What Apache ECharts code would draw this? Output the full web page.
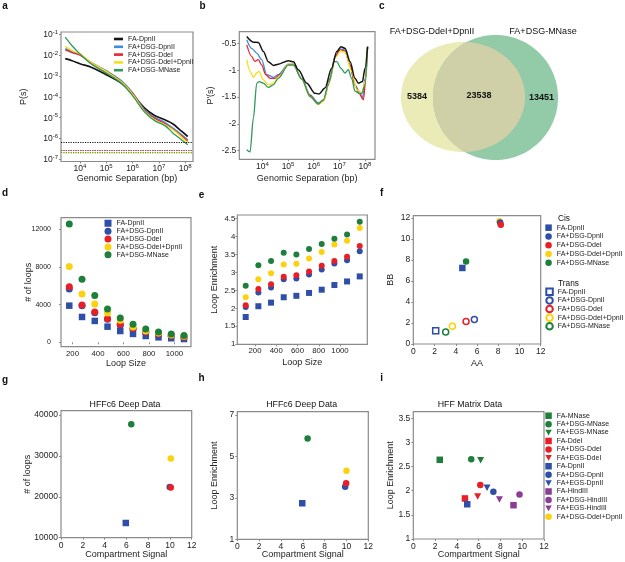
<!DOCTYPE html>
<html><head><meta charset="utf-8">
<script src="https://cdn.jsdelivr.net/npm/echarts@6/dist/echarts.min.js"></script>
<style>html,body{margin:0;padding:0;background:#fff}#c{width:625px;height:562px}</style>
</head><body><div id="c"></div><script>
const FONT = '"Liberation Sans", Arial, Helvetica, sans-serif';

// ---------- shared sample names ----------
const sampleNames = ['FA-DpnII', 'FA+DSG-DpnII', 'FA+DSG-DdeI', 'FA+DSG-DdeI+DpnII', 'FA+DSG-MNase'];

// ---------- panel a: P(s) (log10 values) ----------
const psLogSep = [3.44, 3.7, 4.0, 4.43, 5.0, 5.57, 6.02, 6.46, 6.84, 7.23, 7.54, 7.8, 8.1];
const psFA_DpnII = [-2.17, -2.27, -2.41, -2.58, -2.94, -3.34, -3.90, -4.54, -4.89, -5.10, -5.30, -5.58, -5.90];
const psDSG_DpnII = [-1.69, -1.83, -1.98, -2.35, -2.74, -3.22, -3.82, -4.62, -4.98, -5.22, -5.50, -5.75, -6.06];
const psDSG_DdeI = [-1.75, -1.88, -2.00, -2.37, -2.78, -3.26, -3.86, -4.66, -5.03, -5.28, -5.56, -5.80, -6.12];
const psDSG_DdeI_DpnII = [-1.58, -1.78, -1.94, -2.35, -2.78, -3.28, -3.90, -4.70, -5.10, -5.34, -5.58, -5.85, -6.20];
const psDSG_MNase = [-1.14, -1.55, -1.94, -2.42, -2.86, -3.34, -3.98, -4.73, -5.14, -5.38, -5.74, -6.00, -6.30];
const psFloor = [-6.2, -6.58, -6.58, -6.69, -6.66];
const psYTicks = [-7, -6, -5, -4, -3, -2, -1];
const sepTicks = [4, 5, 6, 7, 8];

// ---------- panel b: P'(s) ----------
const slopeX_FA_DpnII = [3.39, 3.65, 3.84, 4.04, 4.23, 4.43, 4.62, 5.01, 5.21, 5.40, 5.73, 6.05, 6.21, 6.44, 6.70, 6.90, 7.06, 7.22, 7.42, 7.61, 7.74, 7.90, 8.00, 8.10];
const slopeY_FA_DpnII = [-0.37, -0.475, -0.48, -0.65, -0.84, -0.91, -0.885, -0.82, -0.84, -0.99, -1.24, -1.43, -1.44, -1.33, -0.96, -0.65, -0.56, -0.59, -0.84, -1.15, -1.24, -1.21, -0.96, -0.56];
const slopeX_DSG_DpnII = [3.39, 3.58, 3.78, 3.97, 4.17, 4.43, 4.62, 5.01, 5.21, 5.53, 5.86, 6.18, 6.38, 6.64, 6.83, 7.03, 7.22, 7.42, 7.61, 7.77, 7.90, 8.00, 8.10];
const slopeY_DSG_DpnII = [-0.43, -0.59, -0.68, -0.80, -1.08, -1.13, -1.08, -0.885, -0.885, -1.15, -1.46, -1.61, -1.55, -1.15, -0.74, -0.60, -0.62, -0.90, -1.27, -1.39, -1.52, -1.15, -0.56];
const slopeX_DSG_DdeI = [3.39, 3.58, 3.71, 3.84, 3.97, 4.13, 4.30, 4.49, 4.69, 5.01, 5.21, 5.53, 5.86, 6.18, 6.38, 6.64, 6.83, 7.03, 7.22, 7.42, 7.61, 7.77, 7.94, 8.03, 8.10];
const slopeY_DSG_DdeI = [-0.525, -0.74, -0.835, -0.80, -0.90, -1.08, -1.15, -1.15, -1.07, -0.90, -0.90, -1.16, -1.475, -1.63, -1.57, -1.16, -0.76, -0.62, -0.64, -0.91, -1.28, -1.43, -1.55, -1.15, -0.56];
const slopeX_DSG_DdeI_DpnII = [3.39, 3.52, 3.65, 3.78, 3.87, 4.04, 4.23, 4.43, 4.62, 5.01, 5.21, 5.53, 5.86, 6.18, 6.38, 6.64, 6.83, 7.06, 7.22, 7.48, 7.68, 7.87, 8.00, 8.10];
const slopeY_DSG_DdeI_DpnII = [-0.80, -1.02, -1.13, -1.05, -1.02, -1.18, -1.27, -1.24, -1.13, -0.885, -0.89, -1.16, -1.49, -1.64, -1.58, -1.18, -0.77, -0.64, -0.66, -1.02, -1.36, -1.43, -1.21, -0.56];
const slopeX_DSG_MNase = [3.39, 3.52, 3.65, 3.78, 3.87, 4.04, 4.23, 4.43, 4.62, 5.01, 5.21, 5.53, 5.86, 6.18, 6.38, 6.57, 6.81, 6.90, 7.06, 7.22, 7.35, 7.48, 7.61, 7.77, 7.87, 8.00, 8.10];
const slopeY_DSG_MNase = [-2.48, -2.52, -1.89, -1.24, -1.21, -1.24, -1.32, -1.27, -1.15, -0.90, -0.90, -1.16, -1.49, -1.63, -1.55, -1.27, -0.84, -0.84, -0.96, -1.05, -0.99, -1.15, -1.39, -1.43, -1.43, -1.27, -0.56];
const slopeYTicks = [-2.5, -2, -1.5, -1, -0.5];

// ---------- panel c: Venn ----------
const vennSetNames = ['FA+DSG-DdeI+DpnII', 'FA+DSG-MNase'];
const vennCounts = [5384, 23538, 13451]; // only-left, shared, only-right

// ---------- panels d, e ----------
const loopSize = [175, 275, 375, 475, 575, 675, 775, 875, 975, 1075];
const loopsFA_DpnII = [3890, 2690, 2270, 1660, 1200, 890, 670, 530, 430, 350];
const loopsDSG_DpnII = [5660, 3890, 3150, 2440, 1800, 1380, 1030, 810, 640, 500];
const loopsDSG_DdeI = [5910, 3970, 3220, 2510, 1910, 1490, 1130, 920, 710, 570];
const loopsDSG_DdeI_DpnII = [8040, 5130, 4070, 3120, 2340, 1630, 1200, 990, 780, 640];
const loopsDSG_MNase = [12570, 6690, 4960, 3540, 2580, 1910, 1420, 1100, 890, 710];
const enrFA_DpnII = [1.76, 2.06, 2.16, 2.31, 2.35, 2.43, 2.52, 2.65, 2.75, 2.89];
const enrDSG_DpnII = [2.04, 2.44, 2.58, 2.81, 2.83, 2.94, 3.08, 3.25, 3.34, 3.59];
const enrDSG_DdeI = [2.09, 2.54, 2.67, 2.88, 2.92, 3.03, 3.19, 3.32, 3.44, 3.74];
const enrDSG_DdeI_DpnII = [2.31, 2.81, 2.98, 3.22, 3.24, 3.39, 3.57, 3.78, 3.88, 4.24];
const enrDSG_MNase = [2.63, 3.20, 3.32, 3.55, 3.50, 3.65, 3.79, 3.94, 4.06, 4.41];
const loopSizeTicks = [200, 400, 600, 800, 1000];
const loopCountTicks = [0, 4000, 8000, 12000];
const enrTicks = [1, 1.5, 2, 2.5, 3, 3.5, 4, 4.5];

// ---------- panel f: compartment strength ----------
const cisAA = [4.62, 8.18, 8.24, 8.11, 4.97];
const cisBB = [7.23, 11.56, 11.34, 11.68, 7.85];
const transAA = [2.11, 5.75, 4.97, 3.68, 3.05];
const transBB = [1.25, 2.34, 2.15, 1.68, 1.15];
const abTicks = [0, 2, 4, 6, 8, 10, 12];

// ---------- panels g, h ----------
const deepCompartment = [5.95, 9.98, 10.08, 10.08, 6.45];
const deepLoops = [13600, 22430, 22260, 29380, 37720];
const deepEnrCompartment = [5.95, 9.88, 9.97, 10.0, 6.44];
const deepEnrichment = [2.74, 3.54, 3.70, 4.31, 5.87];
const deepLoopTicks = [10000, 20000, 30000, 40000];
const deepEnrTicks = [1, 3, 5, 7];

// ---------- panel i ----------
const matrixNames = ['FA-MNase', 'FA+DSG-MNase', 'FA+EGS-MNase', 'FA-DdeI', 'FA+DSG-DdeI', 'FA+EGS-DdeI', 'FA-DpnII', 'FA+DSG-DpnII', 'FA+EGS-DpnII', 'FA-HindIII', 'FA+DSG-HindIII', 'FA+EGS-HindIII', 'FA+DSG-DdeI+DpnII'];
const matrixCompartment = [2.43, 5.32, 6.18, 4.74, 6.15, 5.91, 4.95, 7.35, 6.77, 9.2, 9.75, 7.91, null];
const matrixEnrichment = [2.64, 2.65, 2.63, 1.84, 2.12, 1.88, 1.72, 1.98, 2.06, 1.70, 1.92, 1.82, null];
const matrixEnrTicks = [1, 1.5, 2, 2.5, 3, 3.5];

// ================= styling =================
const lineColors = ['#151515', '#3a8de0', '#e8262d', '#f5df18', '#2f9a5d'];
const C = { blue: '#2e4ea8', red: '#e81f26', yellow: '#fcd10f', green: '#1e7f3c', purple: '#8d3c96' };
const markColors = [C.blue, C.blue, C.red, C.yellow, C.green];
const markSymbols = ['rect', 'circle', 'circle', 'circle', 'circle'];
const TRI_DOWN = 'path://M0,0 L10,0 L5,9 Z';
const matrixColors = [C.green, C.green, C.green, C.red, C.red, C.red, C.blue, C.blue, C.blue, C.purple, C.purple, C.purple, C.yellow];
const matrixSymbols = ['rect', 'circle', TRI_DOWN, 'rect', 'circle', TRI_DOWN, 'rect', 'circle', TRI_DOWN, 'rect', 'circle', TRI_DOWN, 'circle'];
const BORDER = '#8a8a8a';
const TXT = '#222';

const zip = (xs, ys) => xs.map((x, i) => [x, ys[i]]);
const strip = n => n.split('|')[1];

function grid(left, top, width, height) {
  return { left, top, width, height, show: true, borderColor: BORDER, borderWidth: 1.2, backgroundColor: 'transparent', containLabel: false };
}
function vAxis(gridIndex, min, max, ticks, opts) {
  opts = opts || {};
  return {
    type: 'value', gridIndex, min, max,
    position: opts.position,
    show: opts.show !== false,
    name: opts.name || '', nameLocation: 'middle', nameGap: opts.nameGap || 12,
    nameMoveOverlap: false,
    nameTextStyle: { fontSize: 9, color: TXT, fontFamily: FONT },
    axisLine: { show: false },
    splitLine: { show: false },
    axisTick: { show: opts.noTicks ? false : true, length: 2, lineStyle: { color: BORDER }, customValues: ticks },
    axisLabel: Object.assign({ show: opts.noLabels ? false : true, customValues: ticks, fontSize: opts.fontSize || 8.5, color: TXT, fontFamily: FONT, margin: opts.margin == null ? 3 : opts.margin, formatter: v => String(v) }, opts.label || {})
  };
}
const powLabel = {
  formatter: v => '{b|10}{e|' + v + '}',
  rich: {
    b: { fontSize: 8.5, fontFamily: FONT, color: TXT, verticalAlign: 'bottom', lineHeight: 10 },
    e: { fontSize: 6, fontFamily: FONT, color: TXT, verticalAlign: 'top', lineHeight: 10 }
  }
};

const grids = [
  grid(61, 32, 132, 129.5),        // 0 a
  grid(239.3, 31.7, 135.7, 127.6), // 1 b
  Object.assign(grid(376, 18, 200, 160), { show: false }), // 2 c
  grid(61, 217.7, 130, 129),       // 3 d
  grid(237.3, 215, 130, 129.3),    // 4 e
  grid(413.3, 215.7, 127.4, 128.3),// 5 f
  grid(61, 410.7, 130.7, 127),     // 6 g
  grid(237.3, 411.7, 131, 127.6),  // 7 h
  grid(413.3, 411.7, 130.7, 127.3) // 8 i
];

const xAxes = [
  vAxis(0, 3.28, 8.3, sepTicks, { name: 'Genomic Separation (bp)', nameGap: 13, label: powLabel, margin: 2, position: 'bottom' }),
  vAxis(1, 3.10, 8.39, sepTicks, { name: 'Genomic Separation (bp)', nameGap: 15, label: powLabel, margin: 2, position: 'bottom' }),
  { type: 'value', gridIndex: 2, min: 0, max: 200, show: false },
  vAxis(3, 110, 1130, loopSizeTicks, { name: 'Loop Size', nameGap: 12, position: 'bottom', fontSize: 7.8 }),
  vAxis(4, 108.7, 1134.8, [], { noLabels: true, noTicks: true, position: 'bottom' }),
  vAxis(4, 33, 1257, loopSizeTicks, { name: 'Loop Size', nameGap: 14, position: 'bottom', fontSize: 7.8 }),
  vAxis(5, 0, 12, abTicks, { name: 'AA', nameGap: 15, position: 'bottom' }),
  vAxis(6, 0, 12, abTicks, { name: 'Compartment Signal', nameGap: 12, position: 'bottom' }),
  vAxis(7, 0, 12, abTicks, { name: 'Compartment Signal', nameGap: 11, position: 'bottom' }),
  vAxis(8, 0, 12, abTicks, { name: 'Compartment Signal', nameGap: 11, position: 'bottom' })
];
const yAxes = [
  vAxis(0, -7.1, -0.89, psYTicks, { name: 'P(s)', nameGap: 33, label: powLabel, margin: 3 }),
  vAxis(1, -2.66, -0.28, slopeYTicks, { name: "P'(s)", nameGap: 24 }),
  { type: 'value', gridIndex: 2, min: 0, max: 160, show: false },
  vAxis(3, -467, 13230, loopCountTicks, { name: '# of loops', nameGap: 28, margin: 10, fontSize: 7 }),
  vAxis(4, 1, 4.6, enrTicks, { name: 'Loop Enrichment', nameGap: 18, margin: 2, fontSize: 7.8 }),
  vAxis(5, 0, 12.2, abTicks, { name: 'BB', nameGap: 18 }),
  vAxis(6, 10000, 41060, deepLoopTicks, { name: '# of loops', nameGap: 29 }),
  vAxis(7, 1, 7.16, deepEnrTicks, { name: 'Loop Enrichment', nameGap: 18 }),
  vAxis(8, 1, 3.636, matrixEnrTicks, { name: 'Loop Enrichment', nameGap: 18 })
];

const series = [];

// a
[psFA_DpnII, psDSG_DpnII, psDSG_DdeI, psDSG_DdeI_DpnII, psDSG_MNase].forEach((ys, k) => {
  series.push({
    name: 'a|' + sampleNames[k], type: 'line', xAxisIndex: 0, yAxisIndex: 0,
    data: zip(psLogSep, ys), smooth: 0.4, symbol: 'none', silent: true,
    lineStyle: { color: lineColors[k], width: k === 0 ? 1.7 : 1.3 }, itemStyle: { color: lineColors[k] },
    markLine: { silent: true, symbol: 'none', label: { show: false }, data: [{ yAxis: psFloor[k] }],
      lineStyle: { type: 'dotted', color: lineColors[k], width: 1.2 } }
  });
});
// b
[[slopeX_FA_DpnII, slopeY_FA_DpnII], [slopeX_DSG_DpnII, slopeY_DSG_DpnII], [slopeX_DSG_DdeI, slopeY_DSG_DdeI],
 [slopeX_DSG_DdeI_DpnII, slopeY_DSG_DdeI_DpnII], [slopeX_DSG_MNase, slopeY_DSG_MNase]].forEach((xy, k) => {
  series.push({
    name: 'b|' + sampleNames[k], type: 'line', xAxisIndex: 1, yAxisIndex: 1,
    data: zip(xy[0], xy[1]), smooth: 0.3, smoothMonotone: 'x', symbol: 'none', silent: true, z: k === 0 ? 3 : 2,
    lineStyle: { color: lineColors[k], width: k === 0 ? 1.5 : 1.3 }, itemStyle: { color: lineColors[k] }
  });
});
// c: Venn (geometry in the hidden grid's units)
const vennGeom = { left: { cx: 87, cy: 81, rx: 62, ry: 55 }, right: { cx: 119.5, cy: 80.5, r: 62.5 } };
const vennFill = { left: '#ebebb8', right: '#93caa8', both: '#d0d0a8' };
series.push({
  type: 'custom', xAxisIndex: 2, yAxisIndex: 2, silent: true, data: [[0, 0]],
  renderItem: function (params, api) {
    const L = vennGeom.left, R = vennGeom.right, N = 240;
    const inR = (x, y) => (x - R.cx) ** 2 + (y - R.cy) ** 2 <= R.r * R.r;
    const inL = (x, y) => ((x - L.cx) / L.rx) ** 2 + ((y - L.cy) / L.ry) ** 2 <= 1;
    const lPts = [], rPts = [], lens1 = [], lens2 = [];
    for (let k = 0; k < N; k++) {
      const t = -Math.PI + 2 * Math.PI * k / N;
      const x = L.cx + L.rx * Math.cos(t), y = L.cy + L.ry * Math.sin(t);
      lPts.push(api.coord([x, y]));
      if (inR(x, y)) lens1.push(api.coord([x, y]));
    }
    for (let k = 0; k < N; k++) {
      const s = 2 * Math.PI * k / N;
      const x = R.cx + R.r * Math.cos(s), y = R.cy + R.r * Math.sin(s);
      rPts.push(api.coord([x, y]));
      if (inL(x, y)) lens2.push(api.coord([x, y]));
    }
    const font = 'bold 9px ' + FONT;
    const txt = (val, x, y) => {
      const p = api.coord([x, y]);
      return { type: 'text', style: { text: String(val), x: p[0], y: p[1], font, fill: '#111',
        align: 'center', verticalAlign: 'middle', textAlign: 'center', textVerticalAlign: 'middle' } };
    };
    const lEdge = L.cx - L.rx, rEdgeL = L.cx + L.rx, lEdgeR = R.cx - R.r, rEdge = R.cx + R.r;
    return { type: 'group', children: [
      { type: 'polygon', shape: { points: lPts }, style: { fill: vennFill.left } },
      { type: 'polygon', shape: { points: rPts }, style: { fill: vennFill.right } },
      { type: 'polygon', shape: { points: lens1.concat(lens2) }, style: { fill: vennFill.both } },
      txt(vennCounts[0], (lEdge + lEdgeR) / 2, L.cy),
      txt(vennCounts[1], (lEdgeR + rEdgeL) / 2, L.cy + 1),
      txt(vennCounts[2], (rEdgeL + rEdge) / 2, R.cy)
    ] };
  }
});
// d, e
const loopCounts = [loopsFA_DpnII, loopsDSG_DpnII, loopsDSG_DdeI, loopsDSG_DdeI_DpnII, loopsDSG_MNase];
const loopEnr = [enrFA_DpnII, enrDSG_DpnII, enrDSG_DdeI, enrDSG_DdeI_DpnII, enrDSG_MNase];
loopCounts.forEach((ys, k) => series.push({
  name: 'd|' + sampleNames[k], type: 'scatter', xAxisIndex: 3, yAxisIndex: 3, silent: true,
  data: zip(loopSize, ys), symbol: markSymbols[k], symbolSize: k === 0 ? 6.5 : 7, itemStyle: { color: markColors[k], opacity: 1 }
}));
loopEnr.forEach((ys, k) => series.push({
  name: 'e|' + sampleNames[k], type: 'scatter', xAxisIndex: 4, yAxisIndex: 4, silent: true,
  data: zip(loopSize, ys), symbol: markSymbols[k], symbolSize: 6, itemStyle: { color: markColors[k], opacity: 1 }
}));
// f (draw order chosen to match overlaps)
[3, 0, 4, 1, 2].forEach(k => series.push({
  name: 'fc|' + sampleNames[k], type: 'scatter', xAxisIndex: 6, yAxisIndex: 5, silent: true,
  data: [[cisAA[k], cisBB[k]]], symbol: markSymbols[k], symbolSize: 6.5, itemStyle: { color: markColors[k], opacity: 1 }
}));
[0, 1, 2, 3, 4].forEach(k => series.push({
  name: 'ft|' + sampleNames[k], type: 'scatter', xAxisIndex: 6, yAxisIndex: 5, silent: true,
  data: [[transAA[k], transBB[k]]], symbol: markSymbols[k], symbolSize: 6,
  itemStyle: { color: '#ffffff', borderColor: markColors[k], borderWidth: 1.5, opacity: 1 }
}));
// g, h
sampleNames.forEach((n, k) => series.push({
  name: 'g|' + n, type: 'scatter', xAxisIndex: 7, yAxisIndex: 6, silent: true,
  data: [[deepCompartment[k], deepLoops[k]]], symbol: markSymbols[k], symbolSize: 6.5, itemStyle: { color: markColors[k], opacity: 1 }
}));
sampleNames.forEach((n, k) => series.push({
  name: 'h|' + n, type: 'scatter', xAxisIndex: 8, yAxisIndex: 7, silent: true,
  data: [[deepEnrCompartment[k], deepEnrichment[k]]], symbol: markSymbols[k], symbolSize: 6.5, itemStyle: { color: markColors[k], opacity: 1 }
}));
// i
matrixNames.forEach((n, k) => series.push({
  name: 'i|' + n, type: 'scatter', xAxisIndex: 9, yAxisIndex: 8, silent: true,
  data: matrixCompartment[k] == null ? [] : [[matrixCompartment[k], matrixEnrichment[k]]],
  symbol: matrixSymbols[k], symbolSize: matrixSymbols[k] === TRI_DOWN ? [7, 6.5] : 6.5,
  itemStyle: { color: matrixColors[k], opacity: 1 }
}));

function legend(prefix, names, left, top, rowH, iconW, iconH, extra) {
  return Object.assign({
    orient: 'vertical', left, top, padding: 0, itemGap: 0, itemWidth: iconW, itemHeight: iconH,
    selectedMode: false, formatter: strip,
    textStyle: { fontSize: 7, lineHeight: rowH, color: TXT, fontFamily: FONT },
    data: names.map(n => prefix + '|' + n)
  }, extra || {});
}
const legends = [
  legend('a', sampleNames, 114, 35.1, 7.8, 9, 2.6, { icon: 'rect' }),
  legend('d', sampleNames, 104.5, 219.3, 7.9, 7, 7),
  legend('fc', sampleNames, 545.3, 223.3, 8.75, 6.5, 6.5),
  legend('ft', sampleNames, 545.3, 287.4, 8.65, 6.5, 6.5),
  legend('i', matrixNames, 545.3, 411.5, 8.42, 6.5, 6.5)
];

const T = (text, x, y, font, align) => ({
  type: 'text', x, y, silent: true,
  style: { text, font, fill: '#111', align: align || 'center', verticalAlign: 'middle', textAlign: align || 'center', textVerticalAlign: 'middle' }
});
const LET = 'bold 10px ' + FONT, TIT = '8.8px ' + FONT;
const graphics = [
  T('a', 5, 6, LET), T('b', 202.5, 6, LET), T('c', 381.7, 6, LET),
  T('d', 5, 193.5, LET), T('e', 201.5, 195, LET), T('f', 381.7, 193.5, LET),
  T('g', 5, 380, LET), T('h', 201.5, 378.5, LET), T('i', 381.7, 378.5, LET),
  T(vennSetNames[0], 432, 32, '9px ' + FONT), T(vennSetNames[1], 543, 32, '9px ' + FONT),
  T('Cis', 558, 218.3, '8.3px ' + FONT, 'left'), T('Trans', 558, 283.3, '8.3px ' + FONT, 'left'),
  T('HFFc6 Deep Data', 125, 404.3, TIT), T('HFFc6 Deep Data', 301.7, 404.3, TIT), T('HFF Matrix Data', 470, 404.3, TIT)
];

const chart = echarts.init(document.getElementById('c'), null, { renderer: 'canvas', width: 625, height: 562 });
chart.setOption({
  animation: false,
  backgroundColor: '#ffffff',
  textStyle: { fontFamily: FONT },
  grid: grids, xAxis: xAxes, yAxis: yAxes,
  legend: legends, series, graphic: graphics
});
</script></body></html>
